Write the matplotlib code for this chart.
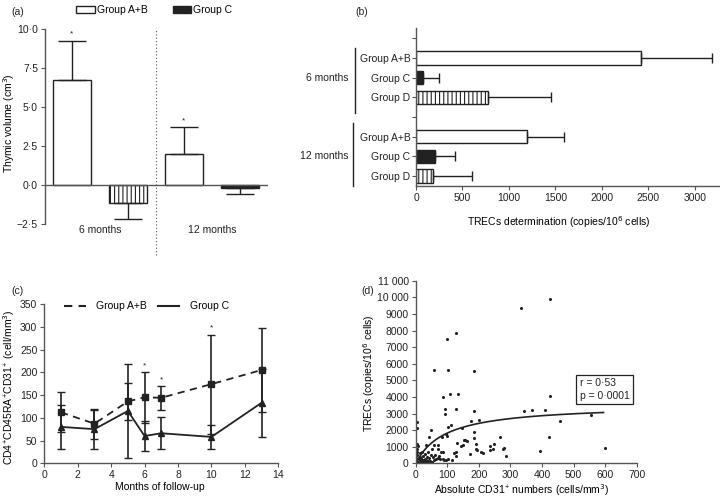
import numpy as np
import matplotlib.pyplot as plt
from matplotlib.patches import Patch
from matplotlib.lines import Line2D
import matplotlib.transforms as mtransforms

plt.rcParams['font.family'] = ['Liberation Sans', 'DejaVu Sans']
plt.rcParams['font.size'] = 7.5
plt.rcParams['hatch.linewidth'] = 0.8

INK = '#222222'
AXC = '#555555'

# (a) thymic volume change
thy_periods = ['6 months', '12 months']
thy_ab = [6.75, 2.0]
thy_ab_err = [2.5, 1.7]
thy_c = [-1.15, -0.2]
thy_c_err = [1.05, 0.35]
thy_ticks = [-2.5, 0.0, 2.5, 5.0, 7.5, 10.0]
thy_ticklabels = ['\u22122\u00b75', '0\u00b70', '2\u00b75', '5\u00b70', '7\u00b75', '10\u00b70']

# (b) TRECs determination
trec_groups = ['Group A+B', 'Group C', 'Group D']
trec_6m = [2420, 80, 775]
trec_6m_err = [760, 163, 682]
trec_12m = [1196, 207, 186]
trec_12m_err = [393, 211, 421]

# (c) CD4+CD45RA+CD31+ follow-up
months = [1, 3, 5, 6, 7, 10, 13]
cd31_ab = [112, 87, 136, 145, 144, 174, 205]
cd31_ab_err = [44, 33, 41, 56, 26, 109, 93]
cd31_c = [80, 75, 115, 60, 66, 58, 133]
cd31_c_err = [48, 43, 103, 32, 35, 26, 75]
signif_months = [6, 7, 10]

# (d) TRECs vs absolute CD31+
cd31_abs = [100, 128, 58, 103, 184, 333, 425, 425, 87, 110, 135, 93, 92, 128, 184, 342, 369, 408, 555, 457,
            4, 4, 47, 101, 111, 147, 176, 200, 184, 184, 42, 83, 95, 100, 157, 162, 154, 190, 192, 193,
            130, 144, 150, 267, 234, 248, 244, 235, 275, 279, 287, 208, 212, 172, 127, 127, 421, 395, 600, 69,
            34, 81, 87, 86, 102, 71, 62, 59, 50,
            2, 3, 4, 5, 6, 3, 1, 8, 10, 12, 14, 15, 17, 18, 20, 21, 22, 24, 25, 27, 28, 30, 31, 33, 35, 36,
            38, 40, 42, 44, 46, 48, 52, 55, 58, 65, 70, 75, 78, 90, 95, 115, 120]
trecs = [7500, 7830, 5620, 5620, 5540, 9370, 9880, 4070, 4010, 4170, 4170, 3250, 2990, 3250, 3150, 3150, 3200, 3220, 2930, 2570,
         2470, 2150, 1990, 2200, 2290, 2130, 2550, 2610, 1870, 1540, 1590, 1600, 1750, 1650, 1420, 1320, 1390, 1180, 880, 800,
         1200, 1020, 1120, 1570, 1060, 1140, 860, 780, 860, 900, 420, 700, 640, 540, 680, 420, 1600, 720, 940, 1100,
         1120, 700, 700, 260, 260, 300, 520, 1100, 880,
         150, 480, 700, 850, 1050, 1150, 300, 100, 250, 400, 50, 600, 180, 320, 700, 90, 200, 450, 30, 150,
         280, 550, 100, 220, 380, 60, 160, 700, 300, 120, 40, 480, 80, 350, 180, 250, 850, 420, 250, 200,
         180, 220, 650]
fit_vmax, fit_k = 3550, 95
fit_range = (2, 595)

fig = plt.figure(figsize=(7.2, 4.97), dpi=100)


def style_axis(ax):
    for s in ['top', 'right']:
        ax.spines[s].set_visible(False)
    for s in ['left', 'bottom']:
        ax.spines[s].set_color(AXC)
        ax.spines[s].set_linewidth(1.0)
    ax.tick_params(direction='out', length=3, width=0.8, color=AXC, labelcolor=INK, labelsize=7.5, pad=2)


# ---- (a)
ax_a = fig.add_axes([0.0625, 0.5493, 0.3097, 0.3918])
style_axis(ax_a)
ax_a.spines['bottom'].set_visible(False)
w = 0.68
bar_kw = dict(width=w, edgecolor=INK, linewidth=1.0)
err_kw = dict(fmt='none', ecolor=INK, elinewidth=1.0, capsize=10, capthick=1.0)
for i in range(2):
    xab = 2 * i
    xc = 2 * i + 1
    ax_a.bar(xab, thy_ab[i], color='white', **bar_kw)
    ax_a.errorbar(xab, thy_ab[i], yerr=[[0], [thy_ab_err[i]]], **err_kw)
    top = thy_ab[i] + thy_ab_err[i]
    ax_a.text(xab, top + 0.45, '*', ha='center', va='center', fontsize=6, color=INK)
    if i == 0:
        ax_a.bar(xc, thy_c[i], color='white', hatch='||||', **bar_kw)
    else:
        ax_a.bar(xc, thy_c[i], color=INK, **bar_kw)
    ax_a.errorbar(xc, thy_c[i], yerr=[[thy_c_err[i]], [0]], **err_kw)
ax_a.axhline(0, color=AXC, lw=1.0)
ax_a.plot([1.5, 1.5], [-0.16, 1.0], transform=mtransforms.blended_transform_factory(ax_a.transData, ax_a.transAxes),
          ls=(0, (1, 2)), color=AXC, lw=0.8, clip_on=False)
ax_a.set_xlim(-0.48, 3.5)
ax_a.set_ylim(-2.5, 10)
ax_a.set_yticks(thy_ticks)
ax_a.set_yticklabels(thy_ticklabels)
ax_a.set_xticks([0.5, 2.5])
ax_a.set_xticklabels(thy_periods)
ax_a.tick_params(axis='x', length=0, pad=1)
ax_a.set_ylabel('Thymic volume (cm$^3$)')
ax_a.yaxis.set_label_coords(-0.124, 0.52)
ax_a.legend(handles=[Patch(facecolor='white', edgecolor=INK, label='Group A+B'),
                     Patch(facecolor=INK, edgecolor=INK, label='Group C')],
            ncol=2, frameon=False, loc='center left', bbox_to_anchor=(0.12, 1.1),
            handlelength=1.8, handleheight=0.65, handletextpad=0.2, columnspacing=2.4,
            borderaxespad=0, fontsize=7.5)

# ---- (b)
ax_b = fig.add_axes([0.5778, 0.6264, 0.4208, 0.3167])
style_axis(ax_b)
h = 0.68
styles = [dict(color='white'), dict(color=INK), dict(color='white', hatch='||||')]
for j in range(3):
    ax_b.barh(1 + j, trec_6m[j], height=h, edgecolor=INK, linewidth=1.0, **styles[j])
    ax_b.errorbar(trec_6m[j], 1 + j, xerr=[[0], [trec_6m_err[j]]], fmt='none', ecolor=INK,
                  elinewidth=1.0, capsize=3.5, capthick=1.0)
    ax_b.barh(5 + j, trec_12m[j], height=h, edgecolor=INK, linewidth=1.0, **styles[j])
    ax_b.errorbar(trec_12m[j], 5 + j, xerr=[[0], [trec_12m_err[j]]], fmt='none', ecolor=INK,
                  elinewidth=1.0, capsize=3.5, capthick=1.0)
ax_b.set_ylim(7.5, -0.52)
ax_b.set_xlim(0, 3260)
ax_b.set_xticks([0, 500, 1000, 1500, 2000, 2500, 3000])
ax_b.set_yticks(range(8))
ax_b.set_yticklabels([''] + trec_groups + [''] + trec_groups)
ax_b.tick_params(axis='y', pad=1)
ax_b.set_xlabel('TRECs determination (copies/10$^6$ cells)')
ax_b.xaxis.set_label_coords(0.47, -0.183)
tb = mtransforms.blended_transform_factory(ax_b.transAxes, ax_b.transData)
ax_b.plot([-0.201, -0.201], [0.5, 3.82], transform=tb, color=INK, lw=1.0, clip_on=False)
ax_b.plot([-0.207, -0.207], [4.3, 7.5], transform=tb, color=INK, lw=1.0, clip_on=False)
ax_b.text(-0.222, 2, '6 months', transform=tb, ha='right', va='center', color=INK)
ax_b.text(-0.222, 6, '12 months', transform=tb, ha='right', va='center', color=INK)

# ---- (c)
ax_c = fig.add_axes([0.0615, 0.0678, 0.325, 0.3205])
style_axis(ax_c)
ax_c.errorbar(months, cd31_ab, yerr=cd31_ab_err, fmt='s', ls=(0, (4, 3)), color=INK, ms=5,
              lw=1.3, elinewidth=1.2, capsize=3, capthick=1.0)
ax_c.errorbar(months, cd31_c, yerr=cd31_c_err, fmt='^', ls='-', color=INK, ms=4,
              lw=1.3, elinewidth=1.2, capsize=3, capthick=1.0)
for m in signif_months:
    k = months.index(m)
    ax_c.text(m, cd31_ab[k] + cd31_ab_err[k] + 14, '*', ha='center', va='center', fontsize=6, color=INK)
ax_c.set_xlim(0, 14)
ax_c.set_ylim(0, 350)
ax_c.set_xticks(range(0, 15, 2))
ax_c.set_yticks(range(0, 351, 50))
ax_c.set_xlabel('Months of follow-up')
ax_c.xaxis.set_label_coords(0.494, -0.12)
ax_c.set_ylabel('$\\mathregular{CD4^{\\!+\\!}CD45RA^{\\!+\\!}CD31^{\\!+\\!}}$ (cell/mm$^3$)', fontsize=7.5)
ax_c.yaxis.set_label_coords(-0.116, 0.476)
ax_c.legend(handles=[Line2D([], [], color=INK, lw=1.5, ls=(0, (4, 3))),
                     Line2D([], [], color=INK, lw=1.5)],
            labels=['Group A+B', 'Group C'], ncol=2, frameon=False, loc='center left',
            bbox_to_anchor=(0.067, 0.985), handlelength=2.1, handletextpad=1.0, columnspacing=1.0,
            borderaxespad=0, fontsize=7.5)

# ---- (d)
ax_d = fig.add_axes([0.5774, 0.0678, 0.3069, 0.3674])
style_axis(ax_d)
ax_d.scatter(cd31_abs, trecs, s=5, color=INK, linewidths=0)
xf = np.linspace(fit_range[0], fit_range[1], 300)
ax_d.plot(xf, fit_vmax * xf / (fit_k + xf), color=INK, lw=1.2)
ax_d.set_xlim(0, 700)
ax_d.set_ylim(0, 11000)
ax_d.set_xticks(range(0, 701, 100))
yt = list(range(0, 11001, 1000))
ax_d.set_yticks(yt)
ax_d.set_yticklabels([('%d %03d' % (v // 1000, v % 1000)) if v >= 10000 else str(v) for v in yt])
ax_d.set_xlabel('Absolute $\\mathregular{CD31^{\\!+\\!}}$ numbers (cells/mm$^3$)')
ax_d.xaxis.set_label_coords(0.48, -0.105)
ax_d.set_ylabel('TRECs (copies/10$^6$ cells)')
ax_d.yaxis.set_label_coords(-0.176, 0.495)
ax_d.text(0.742, 0.465, 'r = 0\u00b753\np = 0\u00b70001', transform=ax_d.transAxes, va='top', ha='left',
          color=INK, fontsize=7.5, linespacing=1.3,
          bbox=dict(boxstyle='square,pad=0.35', fc='white', ec=INK, lw=0.9))

# panel letters
fig.text(0.016, 0.985, '(a)', va='top', fontsize=7.5, color=INK)
fig.text(0.493, 0.985, '(b)', va='top', fontsize=7.5, color=INK)
fig.text(0.016, 0.425, '(c)', va='top', fontsize=7.5, color=INK)
fig.text(0.502, 0.425, '(d)', va='top', fontsize=7.5, color=INK)

fig.savefig('out.png', dpi=100)
